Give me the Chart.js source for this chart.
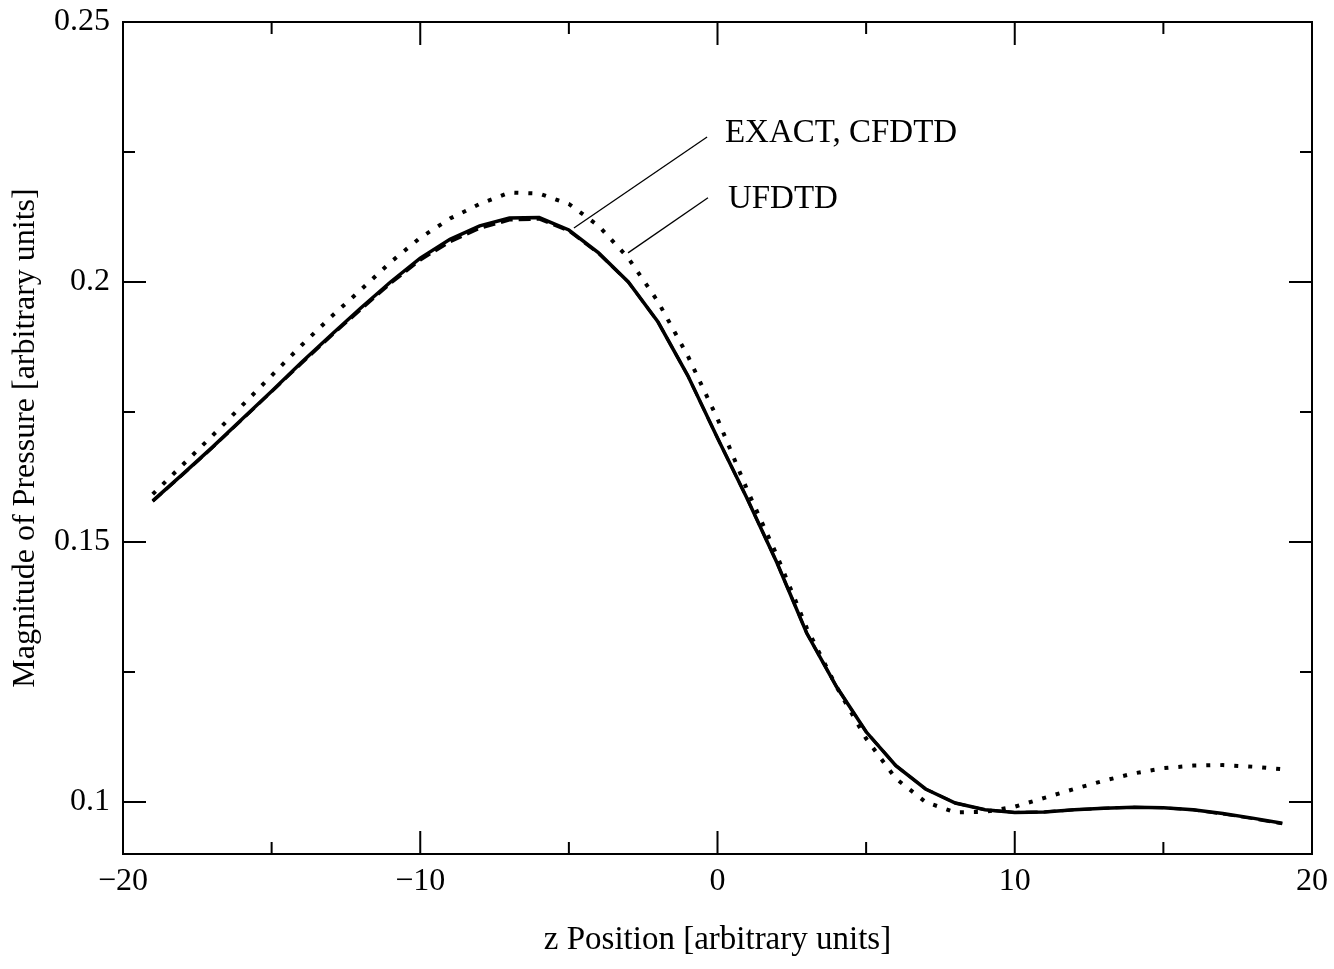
<!DOCTYPE html>
<html>
<head>
<meta charset="utf-8">
<script src="https://cdn.jsdelivr.net/npm/chart.js@4.4.1/dist/chart.umd.min.js"></script>
<style>
  html, body { margin: 0; padding: 0; background: #fff; }
  #wrap { width: 1334px; height: 969px; }
</style>
</head>
<body>
<div id="wrap"><canvas id="pressure_chart"></canvas></div>
<script>
// z positions (arbitrary units)
var zPos = [-19,-18,-17,-16,-15,-14,-13,-12,-11,-10,-9,-8,-7,-6,-5,-4,-3,-2,-1,0,
            1,2,3,4,5,6,7,8,9,10,11,12,13,14,15,16,17,18,19];

// EXACT (solid)
var exactVals = [0.1579,0.1630,0.1682,0.1736,0.1790,0.1845,0.1898,0.1950,0.2000,0.2046,
                 0.2082,0.2108,0.2123,0.2124,0.2100,0.2056,0.2000,0.1923,0.1820,0.1700,
                 0.1583,0.1460,0.1325,0.1222,0.1135,0.1070,0.1025,0.0998,0.0985,0.0980,
                 0.0981,0.0985,0.0988,0.0990,0.0989,0.0985,0.0978,0.0969,0.0959];

// CFDTD (dashed, almost on top of EXACT)
var cfdtdVals = [0.1578,0.1629,0.1681,0.1735,0.1789,0.1843,0.1896,0.1947,0.1997,0.2042,
                 0.2077,0.2103,0.2119,0.2121,0.2098,0.2055,0.2000,0.1923,0.1820,0.1700,
                 0.1583,0.1460,0.1325,0.1222,0.1135,0.1070,0.1025,0.0998,0.0985,0.0980,
                 0.0981,0.0985,0.0988,0.0990,0.0989,0.0985,0.0977,0.0968,0.0958];

// UFDTD (dotted)
var ufdtdVals = [0.1592,0.1648,0.1704,0.1762,0.1820,0.1878,0.1933,0.1985,0.2038,0.2085,
                 0.2122,0.2150,0.2172,0.2170,0.2150,0.2108,0.2046,0.1962,0.1858,0.1737,
                 0.1600,0.1474,0.1335,0.1222,0.1122,0.1045,0.1000,0.0980,0.0981,0.0991,
                 0.1008,0.1025,0.1041,0.1055,0.1065,0.1070,0.1071,0.1068,0.1063];

var xTicks = [-20, -10, 0, 10, 20];
var xMinorTicks = [-15, -5, 5, 15];
var yTicks = [0.1, 0.15, 0.2, 0.25];
var yMinorTicks = [0.125, 0.175, 0.225];

// curve labels with leader lines: [text, textX, textY, lineFromX, lineFromY, lineToX, lineToY]
var curveLabels = [
    ['EXACT, CFDTD', 0.25, 0.2270, -4.83, 0.2104, -0.35, 0.2279],
    ['UFDTD', 0.35, 0.2143, -3.01, 0.2056, -0.32, 0.2162]
];

var serif = '"Liberation Serif", "Times New Roman", serif';

function toPoints(vals) {
    return zPos.map(function(z, i) { return {x: z, y: vals[i]}; });
}

var framePlugin = {
    id: 'frame',
    afterDatasetsDraw: function(chart) {
        var ctx = chart.ctx;
        var a = chart.chartArea;
        var xs = chart.scales.x, ys = chart.scales.y;
        ctx.save();
        ctx.strokeStyle = '#000';
        ctx.lineWidth = 2;
        ctx.strokeRect(a.left, a.top, a.right - a.left, a.bottom - a.top);

        function xTick(v, len) {
            var px = xs.getPixelForValue(v);
            ctx.beginPath();
            ctx.moveTo(px, a.bottom); ctx.lineTo(px, a.bottom - len);
            ctx.moveTo(px, a.top); ctx.lineTo(px, a.top + len);
            ctx.stroke();
        }
        function yTick(v, len) {
            var py = ys.getPixelForValue(v);
            ctx.beginPath();
            ctx.moveTo(a.left, py); ctx.lineTo(a.left + len, py);
            ctx.moveTo(a.right, py); ctx.lineTo(a.right - len, py);
            ctx.stroke();
        }
        xTicks.forEach(function(v) { xTick(v, 23); });
        xMinorTicks.forEach(function(v) { xTick(v, 12); });
        yTicks.forEach(function(v) { yTick(v, 23); });
        yMinorTicks.forEach(function(v) { yTick(v, 12); });

        // leader lines and curve names
        ctx.lineWidth = 1.3;
        ctx.fillStyle = '#000';
        ctx.font = '33px ' + serif;
        ctx.textBaseline = 'alphabetic';
        curveLabels.forEach(function(l) {
            ctx.beginPath();
            ctx.moveTo(xs.getPixelForValue(l[3]), ys.getPixelForValue(l[4]));
            ctx.lineTo(xs.getPixelForValue(l[5]), ys.getPixelForValue(l[6]));
            ctx.stroke();
            ctx.fillText(l[0], xs.getPixelForValue(l[1]), ys.getPixelForValue(l[2]));
        });
        ctx.restore();
    }
};

var ctx = document.getElementById('pressure_chart');
var pressureChart = new Chart(ctx, {
    type: 'line',
    data: {
        datasets: [{
            label: 'UFDTD',
            data: toPoints(ufdtdVals),
            borderColor: '#000',
            borderWidth: 4,
            borderDash: [4, 10],
            pointRadius: 0,
            tension: 0
        }, {
            label: 'CFDTD',
            data: toPoints(cfdtdVals),
            borderColor: '#000',
            borderWidth: 3,
            borderDash: [12, 6],
            pointRadius: 0,
            tension: 0
        }, {
            label: 'EXACT',
            data: toPoints(exactVals),
            borderColor: '#000',
            borderWidth: 3.5,
            pointRadius: 0,
            tension: 0
        }]
    },
    options: {
        responsive: true,
        maintainAspectRatio: false,
        animation: false,
        layout: { padding: { top: 22, right: 22, left: 0, bottom: 0 } },
        plugins: {
            legend: { display: false },
            tooltip: { enabled: false }
        },
        scales: {
            x: {
                type: 'linear',
                min: -20,
                max: 20,
                afterBuildTicks: function(axis) {
                    axis.ticks = xTicks.map(function(v) { return {value: v}; });
                },
                afterFit: function(axis) {
                    axis.height = 115;
                    axis.paddingLeft = 0;
                    axis.paddingRight = 0;
                },
                grid: { display: false, drawTicks: false },
                border: { display: false },
                ticks: {
                    padding: 8,
                    color: '#000',
                    font: { family: serif, size: 32 },
                    callback: function(v) { return v < 0 ? '\u2212' + Math.abs(v) : String(v); }
                },
                title: {
                    display: true,
                    text: 'z Position [arbitrary units]',
                    color: '#000',
                    font: { family: serif, size: 33 },
                    padding: { top: 0, bottom: 9 }
                }
            },
            y: {
                type: 'linear',
                min: 0.09,
                max: 0.25,
                afterBuildTicks: function(axis) {
                    axis.ticks = yTicks.map(function(v) { return {value: v}; });
                },
                afterFit: function(axis) {
                    axis.width = 123;
                    axis.paddingTop = 0;
                    axis.paddingBottom = 0;
                },
                grid: { display: false, drawTicks: false },
                border: { display: false },
                ticks: {
                    padding: 13,
                    color: '#000',
                    font: { family: serif, size: 32 },
                    callback: function(v) { return String(+v.toFixed(2)); }
                },
                title: {
                    display: true,
                    text: 'Magnitude of Pressure [arbitrary units]',
                    color: '#000',
                    font: { family: serif, size: 32 },
                    padding: { top: 6, bottom: 0 }
                }
            }
        }
    },
    plugins: [framePlugin]
});
</script>
</body>
</html>
